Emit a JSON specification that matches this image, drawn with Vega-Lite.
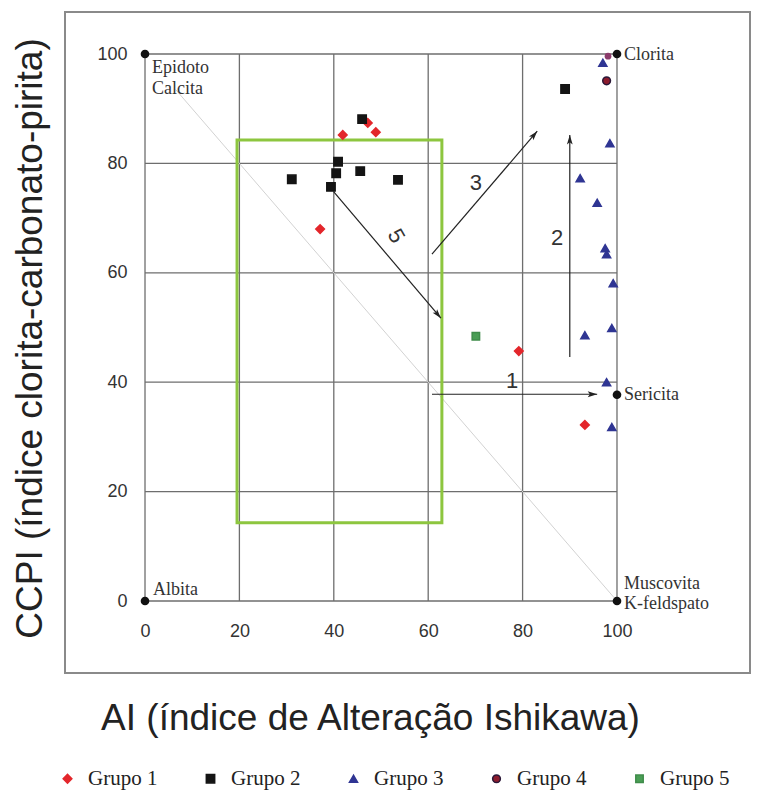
{
  "$schema": "https://vega.github.io/schema/vega-lite/v6.json",
  "width": 685,
  "height": 661,
  "autosize": {"type": "none"},
  "padding": {"left": 65, "top": 12, "right": 7, "bottom": 122},
  "background": "white",
  "config": {
    "view": {"stroke": "#8a8a8a", "strokeWidth": 2},
    "axis": {"labelFont": "Liberation Sans", "labelFontSize": 18, "labelColor": "#333", "titleFont": "Liberation Sans", "titleFontSize": 37, "titleFontWeight": "normal", "titleColor": "#222", "grid": false, "ticks": false, "domain": false},
    "legend": {"orient": "none", "legendX": -8, "legendY": 756, "direction": "horizontal", "columns": 5, "columnPadding": 42, "labelFont": "Liberation Serif", "labelFontSize": 21, "labelColor": "#222", "labelOffset": 10, "symbolStrokeWidth": 1.5}
  },
  "datasets": {
    "ticks": [{"v": 0}, {"v": 20}, {"v": 40}, {"v": 60}, {"v": 80}, {"v": 100}],
    "diag": [{"x1": 6.5, "y1": 93.5, "x2": 100, "y2": 0}],
    "box": [{"x1": 19.5, "x2": 62.9, "y1": 14.3, "y2": 84.3}],
    "arrows": [
      {"id": "1", "x1": 60.8, "y1": 37.8, "x2": 95.8, "y2": 37.8},
      {"id": "2", "x1": 90.0, "y1": 44.6, "x2": 90.0, "y2": 85.2},
      {"id": "3", "x1": 60.8, "y1": 63.4, "x2": 83.1, "y2": 85.9},
      {"id": "5", "x1": 40.0, "y1": 74.8, "x2": 62.7, "y2": 51.7}
    ],
    "arrowLabels": [
      {"id": "1", "x": 77.8, "y": 40.2},
      {"id": "2", "x": 87.3, "y": 66.4},
      {"id": "3", "x": 70.1, "y": 76.4},
      {"id": "5", "x": 53.2, "y": 66.7}
    ],
    "points": [
      {"g": "Grupo 1", "x": 41.9, "y": 85.2},
      {"g": "Grupo 1", "x": 47.2, "y": 87.4},
      {"g": "Grupo 1", "x": 48.9, "y": 85.7},
      {"g": "Grupo 1", "x": 37.1, "y": 68.0},
      {"g": "Grupo 1", "x": 79.2, "y": 45.7},
      {"g": "Grupo 1", "x": 93.2, "y": 32.2},
      {"g": "Grupo 2", "x": 46.0, "y": 88.1},
      {"g": "Grupo 2", "x": 40.9, "y": 80.3},
      {"g": "Grupo 2", "x": 40.5, "y": 78.2},
      {"g": "Grupo 2", "x": 45.6, "y": 78.6},
      {"g": "Grupo 2", "x": 31.1, "y": 77.1},
      {"g": "Grupo 2", "x": 39.4, "y": 75.7},
      {"g": "Grupo 2", "x": 53.6, "y": 77.0},
      {"g": "Grupo 2", "x": 89.0, "y": 93.6},
      {"g": "Grupo 3", "x": 97.0, "y": 98.4},
      {"g": "Grupo 3", "x": 98.5, "y": 83.7},
      {"g": "Grupo 3", "x": 92.2, "y": 77.3},
      {"g": "Grupo 3", "x": 95.8, "y": 72.8},
      {"g": "Grupo 3", "x": 97.5, "y": 64.5},
      {"g": "Grupo 3", "x": 97.8, "y": 63.4},
      {"g": "Grupo 3", "x": 99.2, "y": 58.1},
      {"g": "Grupo 3", "x": 98.9, "y": 49.9},
      {"g": "Grupo 3", "x": 93.2, "y": 48.6},
      {"g": "Grupo 3", "x": 97.8, "y": 40.0},
      {"g": "Grupo 3", "x": 98.9, "y": 31.8},
      {"g": "Grupo 4", "x": 97.8, "y": 95.1},
      {"g": "Grupo 5", "x": 70.1, "y": 48.4}
    ],
    "small": [{"g": "Grupo 4", "x": 98.1, "y": 99.6}],
    "ends": [{"x": 0, "y": 100}, {"x": 100, "y": 100}, {"x": 100, "y": 37.7}, {"x": 0, "y": 0}, {"x": 100, "y": 0}],
    "endLabels": [
      {"t": "Epidoto", "x": 1.5, "y": 97.4},
      {"t": "Calcita", "x": 1.5, "y": 93.6},
      {"t": "Clorita", "x": 101.5, "y": 99.8},
      {"t": "Sericita", "x": 101.5, "y": 37.7},
      {"t": "Albita", "x": 1.7, "y": 2.0},
      {"t": "Muscovita", "x": 101.5, "y": 3.1},
      {"t": "K-feldspato", "x": 101.5, "y": -0.5}
    ]
  },
  "layer": [
    {
      "data": {"name": "ticks"},
      "mark": {"type": "rule", "color": "#6e6e6e", "strokeWidth": 1.3},
      "encoding": {
        "x": {"field": "v", "type": "quantitative", "scale": {"domain": [-16.95, 128.18], "nice": false, "zero": false}},
        "y": {"datum": 0, "type": "quantitative", "scale": {"domain": [-13.16, 107.68], "nice": false, "zero": false}},
        "y2": {"datum": 100}
      }
    },
    {
      "data": {"name": "ticks"},
      "mark": {"type": "rule", "color": "#6e6e6e", "strokeWidth": 1.3},
      "encoding": {
        "y": {"field": "v", "type": "quantitative", "scale": {"domain": [-13.16, 107.68], "nice": false, "zero": false}},
        "x": {"datum": 0, "type": "quantitative", "scale": {"domain": [-16.95, 128.18], "nice": false, "zero": false}},
        "x2": {"datum": 100}
      }
    },
    {
      "data": {"name": "diag"},
      "mark": {"type": "rule", "color": "#d2d2d2", "strokeWidth": 1},
      "encoding": {
        "x": {"field": "x1", "type": "quantitative", "scale": {"domain": [-16.95, 128.18], "nice": false, "zero": false}},
        "y": {"field": "y1", "type": "quantitative", "scale": {"domain": [-13.16, 107.68], "nice": false, "zero": false}},
        "x2": {"field": "x2"},
        "y2": {"field": "y2"}
      }
    },
    {
      "data": {"name": "box"},
      "mark": {"type": "rect", "filled": false, "stroke": "#8dc63f", "strokeWidth": 3},
      "encoding": {
        "x": {"field": "x1", "type": "quantitative", "scale": {"domain": [-16.95, 128.18], "nice": false, "zero": false}},
        "y": {"field": "y1", "type": "quantitative", "scale": {"domain": [-13.16, 107.68], "nice": false, "zero": false}},
        "x2": {"field": "x2"},
        "y2": {"field": "y2"}
      }
    },
    {
      "data": {"name": "arrows"},
      "mark": {"type": "rule", "color": "#222", "strokeWidth": 1.2},
      "encoding": {
        "x": {"field": "x1", "type": "quantitative", "scale": {"domain": [-16.95, 128.18], "nice": false, "zero": false}},
        "y": {"field": "y1", "type": "quantitative", "scale": {"domain": [-13.16, 107.68], "nice": false, "zero": false}},
        "x2": {"field": "x2"},
        "y2": {"field": "y2"}
      }
    },
    {
      "data": {"name": "arrows"},
      "transform": [{"filter": "datum.id == '1'"}],
      "mark": {"type": "point", "filled": true, "color": "#222", "opacity": 1, "size": 110, "angle": 90, "shape": "M0,0L0.55,1.8L0,1.4L-0.55,1.8Z"},
      "encoding": {
        "x": {"field": "x2", "type": "quantitative", "scale": {"domain": [-16.95, 128.18], "nice": false, "zero": false}},
        "y": {"field": "y2", "type": "quantitative", "scale": {"domain": [-13.16, 107.68], "nice": false, "zero": false}}
      }
    },
    {
      "data": {"name": "arrows"},
      "transform": [{"filter": "datum.id == '2'"}],
      "mark": {"type": "point", "filled": true, "color": "#222", "opacity": 1, "size": 110, "angle": 0, "shape": "M0,0L0.55,1.8L0,1.4L-0.55,1.8Z"},
      "encoding": {
        "x": {"field": "x2", "type": "quantitative", "scale": {"domain": [-16.95, 128.18], "nice": false, "zero": false}},
        "y": {"field": "y2", "type": "quantitative", "scale": {"domain": [-13.16, 107.68], "nice": false, "zero": false}}
      }
    },
    {
      "data": {"name": "arrows"},
      "transform": [{"filter": "datum.id == '3'"}],
      "mark": {"type": "point", "filled": true, "color": "#222", "opacity": 1, "size": 110, "angle": 40, "shape": "M0,0L0.55,1.8L0,1.4L-0.55,1.8Z"},
      "encoding": {
        "x": {"field": "x2", "type": "quantitative", "scale": {"domain": [-16.95, 128.18], "nice": false, "zero": false}},
        "y": {"field": "y2", "type": "quantitative", "scale": {"domain": [-13.16, 107.68], "nice": false, "zero": false}}
      }
    },
    {
      "data": {"name": "arrows"},
      "transform": [{"filter": "datum.id == '5'"}],
      "mark": {"type": "point", "filled": true, "color": "#222", "opacity": 1, "size": 110, "angle": 140, "shape": "M0,0L0.55,1.8L0,1.4L-0.55,1.8Z"},
      "encoding": {
        "x": {"field": "x2", "type": "quantitative", "scale": {"domain": [-16.95, 128.18], "nice": false, "zero": false}},
        "y": {"field": "y2", "type": "quantitative", "scale": {"domain": [-13.16, 107.68], "nice": false, "zero": false}}
      }
    },
    {
      "data": {"name": "arrowLabels"},
      "transform": [{"filter": "datum.id != '5'"}],
      "mark": {"type": "text", "font": "Liberation Sans", "fontSize": 22, "color": "#333", "align": "center", "baseline": "middle"},
      "encoding": {
        "x": {"field": "x", "type": "quantitative", "scale": {"domain": [-16.95, 128.18], "nice": false, "zero": false}},
        "y": {"field": "y", "type": "quantitative", "scale": {"domain": [-13.16, 107.68], "nice": false, "zero": false}},
        "text": {"field": "id"}
      }
    },
    {
      "data": {"name": "arrowLabels"},
      "transform": [{"filter": "datum.id == '5'"}],
      "mark": {"type": "text", "font": "Liberation Sans", "fontSize": 22, "color": "#333", "align": "center", "baseline": "middle", "angle": 60},
      "encoding": {
        "x": {"field": "x", "type": "quantitative", "scale": {"domain": [-16.95, 128.18], "nice": false, "zero": false}},
        "y": {"field": "y", "type": "quantitative", "scale": {"domain": [-13.16, 107.68], "nice": false, "zero": false}},
        "text": {"field": "id"}
      }
    },
    {
      "data": {"name": "points"},
      "mark": {"type": "point", "filled": true, "opacity": 1, "strokeWidth": 1.5},
      "encoding": {
        "x": {"field": "x", "type": "quantitative", "scale": {"domain": [-16.95, 128.18], "nice": false, "zero": false},
              "axis": {"values": [0, 20, 40, 60, 80, 100], "offset": -72, "labelPadding": 21,
                       "title": "AI (índice de Alteração Ishikawa)", "titleX": 305, "titleY": 117, "titleBaseline": "middle"}},
        "y": {"field": "y", "type": "quantitative", "scale": {"domain": [-13.16, 107.68], "nice": false, "zero": false},
              "axis": {"values": [0, 20, 40, 60, 80, 100], "offset": -80, "labelPadding": 18,
                       "title": "CCPI (índice clorita-carbonato-pirita)", "titleX": -115, "titleY": 326, "titleBaseline": "middle"}},
        "color": {"field": "g", "type": "nominal", "title": null,
                  "scale": {"domain": ["Grupo 1", "Grupo 2", "Grupo 3", "Grupo 4", "Grupo 5"], "range": ["#e3262b", "#141414", "#2f3593", "#8c1c2e", "#4a9e55"]}},
        "stroke": {"field": "g", "type": "nominal", "title": null,
                   "scale": {"domain": ["Grupo 1", "Grupo 2", "Grupo 3", "Grupo 4", "Grupo 5"], "range": ["#e3262b", "#141414", "#2f3593", "#2a1838", "#3f8c4a"]}},
        "shape": {"field": "g", "type": "nominal", "title": null,
                  "scale": {"domain": ["Grupo 1", "Grupo 2", "Grupo 3", "Grupo 4", "Grupo 5"], "range": ["diamond", "square", "triangle-up", "circle", "square"]}},
        "size": {"field": "g", "type": "nominal", "title": null,
                 "scale": {"domain": ["Grupo 1", "Grupo 2", "Grupo 3", "Grupo 4", "Grupo 5"], "range": [75, 55, 60, 165, 100]}}
      }
    },
    {
      "data": {"name": "small"},
      "mark": {"type": "point", "filled": true, "opacity": 1, "shape": "circle", "size": 45, "color": "#8b3b6b"},
      "encoding": {
        "x": {"field": "x", "type": "quantitative", "scale": {"domain": [-16.95, 128.18], "nice": false, "zero": false}},
        "y": {"field": "y", "type": "quantitative", "scale": {"domain": [-13.16, 107.68], "nice": false, "zero": false}}
      }
    },
    {
      "data": {"name": "ends"},
      "mark": {"type": "point", "filled": true, "opacity": 1, "shape": "circle", "size": 75, "color": "#111"},
      "encoding": {
        "x": {"field": "x", "type": "quantitative", "scale": {"domain": [-16.95, 128.18], "nice": false, "zero": false}},
        "y": {"field": "y", "type": "quantitative", "scale": {"domain": [-13.16, 107.68], "nice": false, "zero": false}}
      }
    },
    {
      "data": {"name": "endLabels"},
      "mark": {"type": "text", "font": "Liberation Serif", "fontSize": 18, "color": "#333", "align": "left", "baseline": "middle"},
      "encoding": {
        "x": {"field": "x", "type": "quantitative", "scale": {"domain": [-16.95, 128.18], "nice": false, "zero": false}},
        "y": {"field": "y", "type": "quantitative", "scale": {"domain": [-13.16, 107.68], "nice": false, "zero": false}},
        "text": {"field": "t"}
      }
    }
  ]
}
